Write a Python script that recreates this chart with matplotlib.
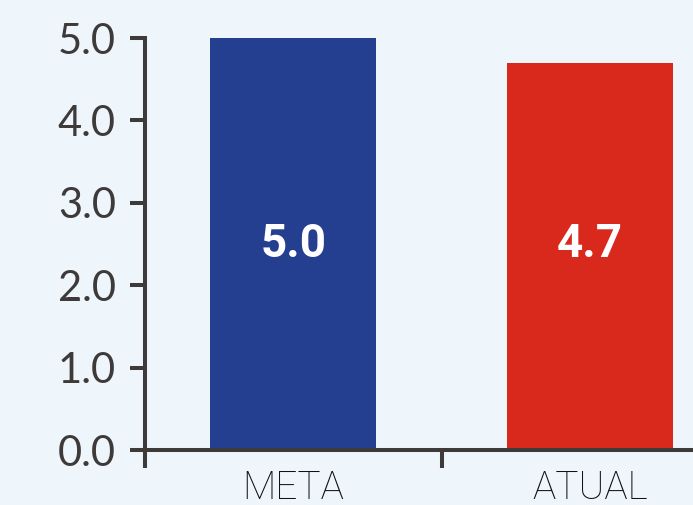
import numpy as np
import matplotlib.pyplot as plt

# data
categories = ["META", "ATUAL"]
values = [5.0, 4.7]
bar_colors = ["#243E90", "#D9291C"]
yticks = [0.0, 1.0, 2.0, 3.0, 4.0, 5.0]

bg = "#EEF6FC"
ink = "#3E3A39"

fig = plt.figure(figsize=(6.93, 5.05), dpi=100, facecolor=bg)
# axes runs past the right edge of the figure, as in the original crop
ax = fig.add_axes([145/693, 55/505, 593/693, 412/505], facecolor=bg)

x = np.arange(len(categories))
ax.bar(x, values, width=0.56, color=bar_colors, zorder=1)

# value labels sit at mid height of the axis
for xi, v in zip(x, values):
    ax.text(xi, 2.5, f"{v:.1f}", ha="center", va="center", color="white",
            fontsize=33, fontweight="bold", family="Roboto")

ax.set_xlim(-0.5, 1.5)
ax.set_ylim(0, 5)

ax.spines["top"].set_visible(False)
ax.spines["right"].set_visible(False)
for s in ("left", "bottom"):
    ax.spines[s].set_linewidth(2.9)
    ax.spines[s].set_color(ink)
    ax.spines[s].set_zorder(3)

ax.set_yticks(yticks)
ax.set_yticklabels([f"{t:.1f}" for t in yticks])
ax.tick_params(axis="y", length=11, width=2.9, color=ink, pad=10,
               labelsize=30, labelcolor=ink)
for lab in ax.get_yticklabels():
    lab.set_family("Lato")

# major x ticks on category borders, labels on minor ticks at centres
ax.set_xticks([-0.5, 0.5, 1.5])
ax.set_xticklabels([])
ax.tick_params(axis="x", which="major", length=13, width=2.9, color=ink)
ax.set_xticks(x, minor=True)
ax.set_xticklabels(categories, minor=True)
ax.tick_params(axis="x", which="minor", length=0, pad=14, labelsize=28,
               labelcolor="#111111")
for lab in ax.get_xticklabels(minor=True):
    lab.set_family("Roboto")
    lab.set_fontweight("light")

fig.savefig("out.png", dpi=100, facecolor=bg)
